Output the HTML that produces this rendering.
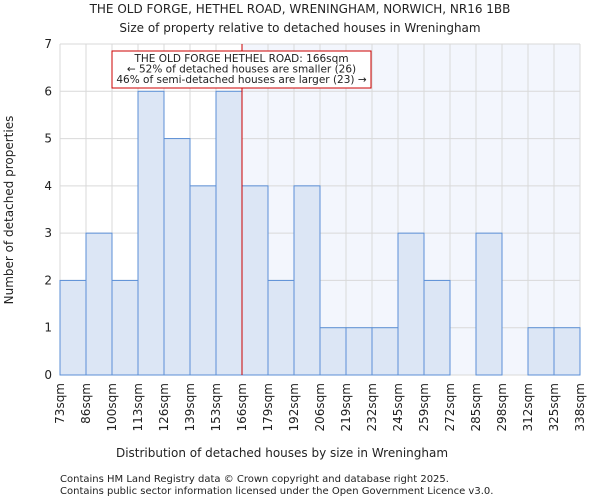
<!DOCTYPE html>
<html><head><meta charset="utf-8"><style>
body{margin:0;background:#fff;font-family:"DejaVu Sans","Liberation Sans",sans-serif}
svg text{font-family:"DejaVu Sans","Liberation Sans",sans-serif;fill:#222}
</style></head><body>
<svg id="c" width="600" height="500" xmlns="http://www.w3.org/2000/svg">
<text x="300" y="13" text-anchor="middle" font-size="12">THE OLD FORGE, HETHEL ROAD, WRENINGHAM, NORWICH, NR16 1BB</text>
<text x="300" y="32" text-anchor="middle" font-size="12">Size of property relative to detached houses in Wreningham</text>
<g id="plot"></g>
<text x="282" y="457" text-anchor="middle" font-size="12">Distribution of detached houses by size in Wreningham</text>
<text transform="translate(13,210) rotate(-90)" text-anchor="middle" font-size="12">Number of detached properties</text>
<text x="60" y="482" font-size="10" fill="#444">Contains HM Land Registry data © Crown copyright and database right 2025.</text>
<text x="60" y="494" font-size="10" fill="#444">Contains public sector information licensed under the Open Government Licence v3.0.</text>
</svg>
<script>
const categories=["73sqm","86sqm","100sqm","113sqm","126sqm","139sqm","153sqm","166sqm","179sqm","192sqm","206sqm","219sqm","232sqm","245sqm","259sqm","272sqm","285sqm","298sqm","312sqm","325sqm","338sqm"];
const counts=[2,3,2,6,5,4,6,4,2,4,1,1,1,3,2,0,3,0,1,1];
const yTicks=[0,1,2,3,4,5,6,7];
const markerIndex=7;
const X0=60,X1=580,Y0=375,Y1=44,YMAX=7;
const nb=counts.length,bw=(X1-X0)/nb;
const xs=i=>X0+i*bw, ys=v=>Y0-(Y0-Y1)*v/YMAX;
const g=document.getElementById('plot');const NS="http://www.w3.org/2000/svg";
function mk(t,a){const e=document.createElementNS(NS,t);for(const k in a)e.setAttribute(k,a[k]);g.appendChild(e);return e;}
let e=mk('rect',{x:X0,y:Y1,width:X1-X0,height:Y0-Y1,fill:'#fff'});


e=mk('rect',{x:xs(markerIndex),y:Y1,width:X1-xs(markerIndex),height:Y0-Y1,fill:'#f3f6fd'});


for(let i=0;i<=nb;i++){e=mk('line',{x1:xs(i),x2:xs(i),y1:Y1,y2:Y0,stroke:'#d9d9d9','stroke-width':1});

}
yTicks.forEach(v=>{e=mk('line',{x1:X0,x2:X1,y1:ys(v),y2:ys(v),stroke:'#d9d9d9','stroke-width':1});


e=mk('text',{x:X0-8,y:ys(v)+4,'text-anchor':'end','font-size':12});e.textContent=v;

});
counts.forEach((v,i)=>{if(v<=0)return;e=mk('rect',{x:xs(i),y:ys(v),width:bw,height:Y0-ys(v),fill:'#dce6f5',stroke:'#5b8fd6','stroke-width':1});

});
categories.forEach((c,i)=>{e=mk('text',{transform:`translate(${xs(i)+4},${Y0+8}) rotate(-90)`,'text-anchor':'end','font-size':12});e.textContent=c;

});
e=mk('line',{x1:xs(markerIndex),x2:xs(markerIndex),y1:Y1,y2:Y0,stroke:'#cc0000','stroke-width':1});


e=mk('rect',{x:112,y:51,width:259,height:37,fill:'#fff',stroke:'#cc0000','stroke-width':1});


["THE OLD FORGE HETHEL ROAD: 166sqm","← 52% of detached houses are smaller (26)","46% of semi-detached houses are larger (23) →"].forEach((t,k)=>{
e=mk('text',{x:241.5,y:62+k*10.5,'text-anchor':'middle','font-size':10.5});e.textContent=t;

});
</script>
</body></html>
